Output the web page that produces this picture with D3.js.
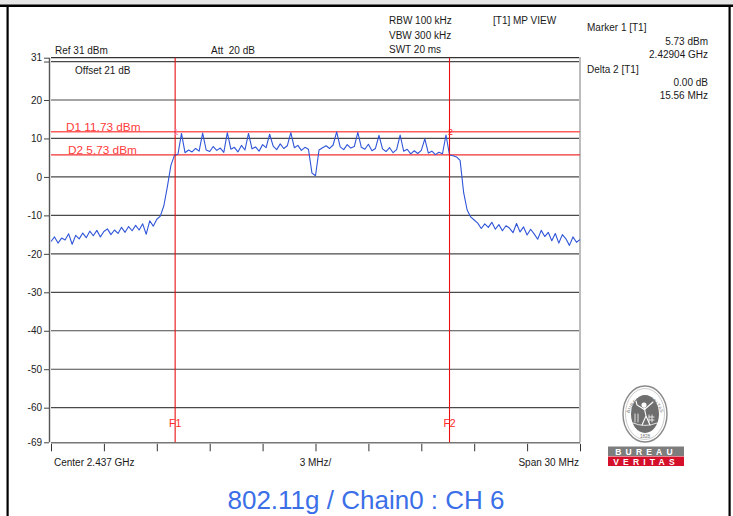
<!DOCTYPE html>
<html>
<head>
<meta charset="utf-8">
<script src="https://cdn.jsdelivr.net/npm/d3@7/dist/d3.min.js"></script>
<style>
  body { margin: 0; background: #fff; }
  svg { display: block; font-family: "Liberation Sans", Arial, sans-serif; }
  svg text { white-space: pre; }
</style>
</head>
<body>
<svg id="chart" width="733" height="516"></svg>
<script>
// Sweep settings
const startGHz = 2.422;
const stopGHz = 2.452;
const traceStepMHz = 0.2;

// Measured trace (dBm), one point every 0.2 MHz from 2.422 GHz
const traceDbm = [
  -16.8, -15.6, -17.2, -15.9, -16.4, -14.8, -17.5, -15.2, -16.1, -14.6,
  -15.8, -14.1, -15.3, -13.9, -15.6, -14.2, -13.5, -15.0, -13.8, -14.7,
  -13.1, -14.4, -12.9, -14.0, -12.6, -13.8, -12.2, -14.9, -11.4, -12.8,
  -11.0, -10.2, -7.5, -2.5, 3.0, 5.6, 5.9, 11.3, 6.3, 7.0,
  6.5, 7.4, 6.7, 11.4, 7.0, 6.6, 7.9, 6.9, 7.5, 6.4,
  11.5, 7.2, 7.7, 6.5, 8.2, 7.0, 11.3, 7.3, 7.8, 6.7,
  8.4, 7.6, 11.1, 8.0, 7.1, 8.6, 7.4, 8.1, 11.5, 7.6,
  8.2, 6.9, 7.7, 7.2, 1.0, 0.3, 7.0, 7.6, 8.1, 7.4,
  8.3, 11.7, 7.8, 7.1, 8.4, 7.5, 7.9, 11.6, 7.7, 7.2,
  8.5, 6.8, 7.4, 10.8, 7.3, 6.6, 7.6, 6.3, 7.1, 10.9,
  6.7, 7.2, 6.0, 6.8, 6.1, 6.9, 9.9, 6.2, 6.7, 5.8,
  6.4, 6.0, 10.9, 5.7, 5.5, 5.2, 4.3, -4.0, -8.6, -10.4,
  -11.2, -12.0, -13.4, -12.2, -13.1, -11.8, -13.6, -12.4, -14.0, -12.7,
  -13.3, -14.5, -12.1, -14.3, -13.0, -15.1, -13.6, -14.8, -16.2, -13.9,
  -15.5, -14.4, -16.6, -14.7, -17.2, -15.0, -16.1, -17.8, -15.6, -17.0,
  -16.3
];

// Level axis
const refLevel = 31;
const bottomLevel = -69;
const levelLabels = [31, 20, 10, 0, -10, -20, -30, -40, -50, -60, -69];
const gridLevels = [30, 20, 10, 0, -10, -20, -30, -40, -50, -60];
const freqDivisions = 10;

// Display lines, frequency lines and markers
const displayLines = [
  { name: "D1", dbm: 11.73 },
  { name: "D2", dbm: 5.73 }
];
const freqLines = [
  { name: "F1", ghz: 2.42904 },
  { name: "F2", ghz: 2.4446 }
];
const markerLabels = [
  { name: "1", ghz: 2.42904 },
  { name: "2", ghz: 2.4446 }
];

// Instrument annotations
const setupLeft = [
  { text: "Ref 31 dBm", x: 55, y: 54 },
  { text: "Att  20 dB", x: 211, y: 54 },
  { text: "Offset 21 dB", x: 75, y: 74 }
];
const setupRight = ["RBW 100 kHz", "VBW 300 kHz", "SWT 20 ms"];
const traceMode = "[T1] MP VIEW";
const markerInfo = [
  { text: "Marker 1 [T1]", anchor: "start", y: 31 },
  { text: "5.73 dBm", anchor: "end", y: 45 },
  { text: "2.42904 GHz", anchor: "end", y: 58 },
  { text: "Delta 2 [T1]", anchor: "start", y: 73 },
  { text: "0.00 dB", anchor: "end", y: 86 },
  { text: "15.56 MHz", anchor: "end", y: 99 }
];
const footer = { center: "Center 2.437 GHz", perDiv: "3 MHz/", span: "Span 30 MHz" };
const title = "802.11g / Chain0 : CH 6";

const svg = d3.select("#chart");
const plot = { left: 51, right: 580, top: 57.7, bottom: 442.3 };

const x = d3.scaleLinear().domain([startGHz, stopGHz]).range([plot.left, plot.right]);
const y = d3.scaleLinear().domain([bottomLevel, refLevel]).range([plot.bottom, plot.top]);

// Window frame
svg.append("rect").attr("x", 0).attr("y", 0).attr("width", 733).attr("height", 5).attr("fill", "#e6e6e6");
svg.append("rect").attr("x", 0).attr("y", 4.5).attr("width", 733).attr("height", 2.5).attr("fill", "#000");
svg.append("rect").attr("x", 6.5).attr("y", 5).attr("width", 2.2).attr("height", 511).attr("fill", "#000");
svg.append("rect").attr("x", 728.5).attr("y", 5).attr("width", 2.2).attr("height", 511).attr("fill", "#000");

// Horizontal grid
svg.append("g").selectAll("line").data(gridLevels).join("line")
  .attr("x1", plot.left).attr("x2", plot.right)
  .attr("y1", d => y(d)).attr("y2", d => y(d))
  .attr("stroke", "#4a4a4a").attr("stroke-width", 1.2);

// Top frame at reference level
svg.append("line")
  .attr("x1", plot.left).attr("x2", plot.right)
  .attr("y1", y(refLevel)).attr("y2", y(refLevel))
  .attr("stroke", "#333").attr("stroke-width", 1.2);

// Right edge of the grid
svg.append("line")
  .attr("x1", plot.right).attr("x2", plot.right)
  .attr("y1", y(refLevel) - 0.6).attr("y2", plot.bottom)
  .attr("stroke", "#bdbdbd").attr("stroke-width", 2);

// Level axis
const yAxis = d3.axisLeft(y)
  .tickValues(levelLabels.concat([30]))
  .tickSize(6).tickPadding(3)
  .tickFormat(d => d === 30 ? "" : d);
const yAxisG = svg.append("g").attr("transform", `translate(${plot.left - 1},0)`).call(yAxis);
yAxisG.select(".domain").attr("stroke", "#555").attr("stroke-width", 1.4)
  .attr("d", `M-0.5,${plot.top}V${plot.bottom}`);
yAxisG.selectAll(".tick line").attr("stroke", "#444").attr("x1", -1).attr("x2", -6);
yAxisG.selectAll(".tick text").attr("font-size", 10).attr("fill", "#222")
  .attr("font-family", "Liberation Sans, Arial, sans-serif").attr("x", -8);

// Frequency axis
const freqTicks = d3.range(freqDivisions + 1).map(i => startGHz + (stopGHz - startGHz) * i / freqDivisions);
const xAxis = d3.axisBottom(x).tickValues(freqTicks).tickSize(8).tickFormat("");
const xAxisG = svg.append("g").attr("transform", `translate(0,${plot.bottom})`).call(xAxis);
xAxisG.select(".domain").attr("stroke", "#777").attr("stroke-width", 1.4)
  .attr("d", `M${plot.left},0.5H${plot.right}`);
xAxisG.selectAll(".tick line").attr("stroke", "#333").attr("y1", 1.5).attr("y2", 9);

// Display lines
svg.append("g").selectAll("line").data(displayLines).join("line")
  .attr("x1", plot.left).attr("x2", plot.right)
  .attr("y1", d => y(d.dbm)).attr("y2", d => y(d.dbm))
  .attr("stroke", (d, i) => i === 0 ? "#ff5c5c" : "#f03030")
  .attr("stroke-width", (d, i) => i === 0 ? 1.6 : 1.1);
svg.append("g").selectAll("text").data(displayLines).join("text")
  .attr("x", (d, i) => i === 0 ? 66 : 68)
  .attr("y", d => y(d.dbm) - 1)
  .attr("font-size", 11.8).attr("fill", "#ff3b3b")
  .text(d => `${d.name} ${d.dbm.toFixed(2)} dBm`);

// Trace
const traceLine = d3.line()
  .x((d, i) => x(startGHz + i * traceStepMHz / 1000))
  .y(d => y(d));
svg.append("path").datum(traceDbm)
  .attr("d", traceLine)
  .attr("fill", "none")
  .attr("stroke", "#2f55d8")
  .attr("stroke-width", 1.1)
  .attr("stroke-linejoin", "round");

// Frequency lines
svg.append("g").selectAll("line").data(freqLines).join("line")
  .attr("x1", d => x(d.ghz)).attr("x2", d => x(d.ghz))
  .attr("y1", plot.top).attr("y2", plot.bottom)
  .attr("stroke", "#e81010").attr("stroke-width", 1.1);
svg.append("g").selectAll("text").data(freqLines).join("text")
  .attr("x", d => x(d.ghz)).attr("y", y(-64) + 4)
  .attr("text-anchor", "middle")
  .attr("font-size", 10.5).attr("fill", "#ff2a2a")
  .text(d => d.name);

// Marker numbers
svg.append("g").selectAll("text").data(markerLabels).join("text")
  .attr("x", d => x(d.ghz) + 1).attr("y", y(displayLines[0].dbm) + 3)
  .attr("text-anchor", "middle")
  .attr("font-size", 9)
  .attr("fill", (d, i) => i === 0 ? "#ff8fb0" : "#ff2020")
  .text(d => d.name);

// Instrument annotations
const txt = svg.append("g").attr("font-size", 10).attr("fill", "#1a1a1a");
txt.selectAll("text.left").data(setupLeft).join("text").attr("class", "left")
  .attr("x", d => d.x).attr("y", d => d.y).text(d => d.text);
txt.selectAll("text.setup").data(setupRight).join("text").attr("class", "setup")
  .attr("x", 389).attr("y", (d, i) => 24 + i * 14.5).text(d => d);
txt.append("text").attr("x", 493).attr("y", 24).text(traceMode);
txt.selectAll("text.marker").data(markerInfo).join("text").attr("class", "marker")
  .attr("x", d => d.anchor === "start" ? 587 : 708)
  .attr("y", d => d.y).attr("text-anchor", d => d.anchor).text(d => d.text);

txt.append("text").attr("x", 54).attr("y", 466).text(footer.center);
txt.append("text").attr("x", x((startGHz + stopGHz) / 2)).attr("y", 466)
  .attr("text-anchor", "middle").text(footer.perDiv);
txt.append("text").attr("x", plot.right - 1).attr("y", 466)
  .attr("text-anchor", "end").text(footer.span);

// Title
svg.append("text").attr("x", 366).attr("y", 509)
  .attr("text-anchor", "middle").attr("font-size", 26)
  .attr("fill", "#3b6fe8").text(title);

// Certification seal
const seal = svg.append("g").attr("transform", "translate(645,414)");
seal.append("ellipse").attr("rx", 22).attr("ry", 28).attr("fill", "#fff")
  .attr("stroke", "#8a8a8a").attr("stroke-width", 1.4);
seal.append("ellipse").attr("rx", 19.5).attr("ry", 25.5).attr("fill", "none")
  .attr("stroke", "#aaa").attr("stroke-width", 0.6);
seal.append("ellipse").attr("rx", 14).attr("ry", 19).attr("fill", "#6e6e6e");
seal.append("path").attr("id", "sealArc")
  .attr("d", "M-17,8 A17,23 0 1,1 17,8").attr("fill", "none");
seal.append("text").attr("font-size", 4.6).attr("fill", "#777").attr("letter-spacing", 0.4)
  .append("textPath").attr("href", "#sealArc").attr("startOffset", "50%")
  .attr("text-anchor", "middle").text("BUREAU VERITAS");
seal.append("text").attr("y", 24).attr("text-anchor", "middle")
  .attr("font-size", 4.6).attr("fill", "#777").text("1828");
const fig = seal.append("g").attr("stroke", "#fff").attr("fill", "none")
  .attr("stroke-width", 1.1).attr("stroke-linecap", "round");
fig.append("circle").attr("cx", -1).attr("cy", -9).attr("r", 2).attr("fill", "#fff");
fig.append("path").attr("d", "M-1,-7 L1,2 L-3,11 M1,2 L5,11 M0,-5 L8,-12 M0,-4 L-8,-9 L-9,-13");
fig.append("path").attr("d", "M-10,0 L-10,8 M-7,0 L-7,8 M4,1 L4,8 M7,1 L7,8 M4,3 H9 M4,6 H9")
  .attr("stroke-width", 0.8);
fig.append("path").attr("d", "M-12,9 Q0,14 12,9").attr("stroke-width", 0.8);

// Brand bars
const bars = [
  { label: "BUREAU", fill: "#7d7d7d", y: 446.5 },
  { label: "VERITAS", fill: "#d4102b", y: 456.5 }
];
const barG = svg.append("g").selectAll("g").data(bars).join("g");
barG.append("rect").attr("x", 608).attr("y", d => d.y).attr("width", 76).attr("height", 9.5)
  .attr("fill", d => d.fill);
barG.append("text").attr("x", 646).attr("y", d => d.y + 8)
  .attr("text-anchor", "middle").attr("font-size", 8.5).attr("font-weight", "bold")
  .attr("letter-spacing", 4.2).attr("fill", "#fff")
  .text(d => d.label);
</script>
</body>
</html>
